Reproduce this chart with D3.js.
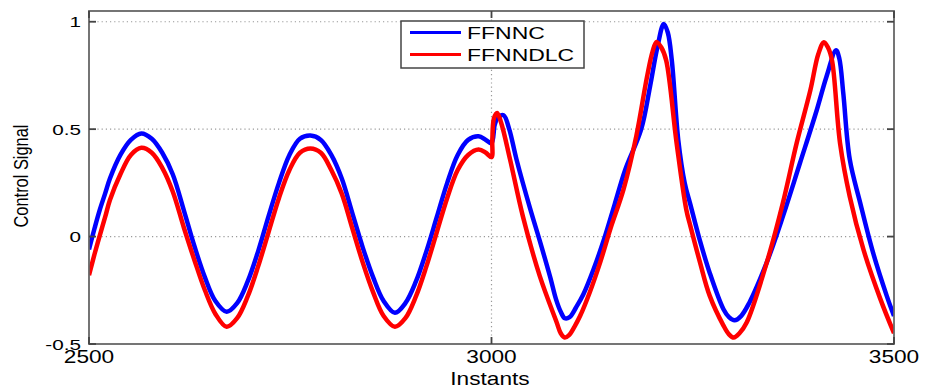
<!DOCTYPE html>
<html>
<head>
<meta charset="utf-8">
<script src="https://cdn.jsdelivr.net/npm/d3@7"></script>
<style>
  body { margin: 0; background: #fff; }
  text { font-family: "Liberation Sans", Arial, sans-serif; fill: #000; }
</style>
</head>
<body>
<div id="chart"></div>
<script>
// instants and values
var blueInstants = [2500, 2507, 2513, 2520, 2526, 2539, 2552, 2565, 2578, 2591, 2604, 2618, 2631, 2644, 2657, 2671,
    2684, 2697, 2710, 2723, 2736, 2749, 2762, 2775, 2788, 2801, 2814, 2827, 2840, 2853, 2866, 2880,
    2893, 2906, 2919, 2932, 2945, 2958, 2971, 2984, 2993, 3000, 3004, 3008, 3015, 3022, 3031, 3048,
    3060, 3073, 3080, 3086, 3091, 3097, 3105, 3114, 3127, 3140, 3153, 3166, 3186, 3197, 3206, 3214, 3219, 3224,
    3232, 3240, 3247, 3259, 3271, 3288, 3295, 3302, 3310, 3320, 3342, 3362, 3383, 3404, 3416, 3428, 3432, 3437,
    3445, 3458, 3474, 3491, 3500];
var blueValues = [-0.06, 0.04, 0.12, 0.2, 0.27, 0.38, 0.45, 0.48, 0.455, 0.39, 0.29, 0.12, -0.045, -0.19, -0.30, -0.35,
    -0.31, -0.21, -0.07, 0.094, 0.25, 0.38, 0.455, 0.47, 0.45, 0.38, 0.27, 0.11, -0.05, -0.19, -0.30, -0.355,
    -0.31, -0.21, -0.07, 0.09, 0.25, 0.38, 0.45, 0.467, 0.45, 0.435, 0.52, 0.555, 0.565, 0.50, 0.36, 0.13,
    -0.02, -0.19, -0.29, -0.35, -0.38, -0.375, -0.33, -0.27, -0.15, -0.01, 0.15, 0.31, 0.50, 0.70, 0.88, 0.99, 0.95, 0.82,
    0.45, 0.25, 0.15, -0.02, -0.168, -0.337, -0.375, -0.39, -0.37, -0.31, -0.12, 0.094, 0.34, 0.588, 0.743, 0.867, 0.83, 0.667,
    0.36, 0.157, -0.075, -0.276, -0.37];

var redInstants = [2500, 2507, 2513, 2520, 2526, 2539, 2552, 2565, 2578, 2591, 2604, 2618, 2631, 2644, 2657, 2671,
    2684, 2697, 2710, 2723, 2736, 2749, 2762, 2775, 2788, 2801, 2814, 2827, 2840, 2853, 2866, 2880,
    2893, 2906, 2919, 2932, 2945, 2958, 2971, 2984, 2993, 3000, 3001, 3003, 3007, 3012, 3023, 3039,
    3060, 3081, 3086, 3091, 3096, 3103, 3110, 3122, 3135, 3148, 3164, 3180, 3193, 3200, 3205, 3211, 3217,
    3230, 3242, 3247, 3259, 3271, 3288, 3295, 3301, 3308, 3317, 3342, 3362, 3379, 3396, 3406, 3413, 3418, 3423,
    3433, 3445, 3462, 3483, 3500];
var redValues = [-0.18, -0.08, 0.0, 0.09, 0.17, 0.29, 0.38, 0.413, 0.39, 0.32, 0.21, 0.04, -0.11, -0.25, -0.36, -0.42,
    -0.38, -0.28, -0.14, 0.02, 0.18, 0.31, 0.39, 0.41, 0.39, 0.31, 0.20, 0.04, -0.12, -0.26, -0.37, -0.42,
    -0.38, -0.28, -0.14, 0.02, 0.18, 0.31, 0.38, 0.405, 0.39, 0.37, 0.45, 0.55, 0.575, 0.53, 0.36, 0.094,
    -0.184, -0.40, -0.45, -0.47, -0.46, -0.42, -0.37, -0.26, -0.12, 0.04, 0.22, 0.47, 0.74, 0.86, 0.906, 0.88, 0.82,
    0.434, 0.125, 0.05, -0.12, -0.275, -0.413, -0.455, -0.47, -0.45, -0.40, -0.12, 0.157, 0.434, 0.68, 0.85, 0.905, 0.88, 0.82,
    0.434, 0.187, -0.06, -0.29, -0.45];

var xTicks = [2500, 3000, 3500];
var yTicks = [-0.5, 0, 0.5, 1];
var seriesNames = ["FFNNC", "FFNNDLC"];
var seriesColors = ["#0000ff", "#ff0000"];

var width = 939, height = 390;
var margin = {top: 11, right: 45, bottom: 46, left: 89};
var plotW = width - margin.left - margin.right;
var plotH = height - margin.top - margin.bottom;

var svg = d3.select("#chart").append("svg")
    .attr("width", width)
    .attr("height", height);

svg.append("rect").attr("width", width).attr("height", height).attr("fill", "#fff");

var g = svg.append("g")
    .attr("transform", "translate(" + margin.left + "," + margin.top + ")");

var x = d3.scaleLinear().domain([2500, 3500]).range([0, plotW]);
var y = d3.scaleLinear().domain([-0.5, 1.05]).range([plotH, 0]);

// text is drawn a bit wide, like the original export
function wideText(parent, tx, ty, str, size, sx, anchor, rot) {
    return parent.append("text")
        .attr("transform", "translate(" + tx + "," + ty + ") scale(" + sx + ",1)" + (rot ? " rotate(" + rot + ")" : ""))
        .attr("text-anchor", anchor)
        .style("font-size", size + "px")
        .text(str);
}

// dotted grid
g.selectAll(".hgrid")
    .data(yTicks.filter(function (d) { return d > -0.5; }))
    .enter().append("line")
    .attr("x1", 0).attr("x2", plotW)
    .attr("y1", function (d) { return y(d); })
    .attr("y2", function (d) { return y(d); })
    .attr("stroke", "#999")
    .attr("stroke-width", 1.2)
    .attr("stroke-dasharray", "1.2,3");

g.selectAll(".vgrid")
    .data(xTicks.filter(function (d) { return d > 2500 && d < 3500; }))
    .enter().append("line")
    .attr("y1", 0).attr("y2", plotH)
    .attr("x1", function (d) { return x(d); })
    .attr("x2", function (d) { return x(d); })
    .attr("stroke", "#999")
    .attr("stroke-width", 1.2)
    .attr("stroke-dasharray", "1.2,3");

// curves
g.append("clipPath").attr("id", "clip")
    .append("rect").attr("width", plotW).attr("height", plotH);

var line = d3.line()
    .x(function (d) { return x(d[0]); })
    .y(function (d) { return y(d[1]); })
    .curve(d3.curveCatmullRom.alpha(0.5));

var series = [
    d3.zip(blueInstants, blueValues),
    d3.zip(redInstants, redValues)
];

g.append("g").attr("clip-path", "url(#clip)")
    .selectAll("path")
    .data(series)
    .enter().append("path")
    .attr("d", line)
    .attr("fill", "none")
    .attr("stroke", function (d, i) { return seriesColors[i]; })
    .attr("stroke-width", 4.5)
    .attr("stroke-linejoin", "round");

// axes box with inward ticks
var axisColor = "#666";
g.append("rect")
    .attr("width", plotW).attr("height", plotH)
    .attr("fill", "none").attr("stroke", axisColor).attr("stroke-width", 1.8);

var tickLen = 7;
yTicks.forEach(function (t) {
    g.append("line").attr("x1", 0).attr("x2", tickLen).attr("y1", y(t)).attr("y2", y(t))
        .attr("stroke", "#444").attr("stroke-width", 1.8);
    g.append("line").attr("x1", plotW - tickLen).attr("x2", plotW).attr("y1", y(t)).attr("y2", y(t))
        .attr("stroke", "#444").attr("stroke-width", 1.8);
    wideText(g, -8, y(t) + 5.5, String(t), 15, 1.38, "end");
});
xTicks.forEach(function (t) {
    g.append("line").attr("x1", x(t)).attr("x2", x(t)).attr("y1", plotH).attr("y2", plotH - tickLen)
        .attr("stroke", "#444").attr("stroke-width", 1.8);
    g.append("line").attr("x1", x(t)).attr("x2", x(t)).attr("y1", 0).attr("y2", tickLen)
        .attr("stroke", "#444").attr("stroke-width", 1.8);
    wideText(g, x(t), plotH + 19, String(t), 18, 1.26, "middle");
});

// axis titles
wideText(svg, 490, 385, "Instants", 18, 1.26, "middle");
wideText(svg, 28, 176, "Control Signal", 16.4, 1.25, "middle", -90);

// legend
var legend = svg.append("g");
legend.append("rect")
    .attr("x", 401).attr("y", 21)
    .attr("width", 183).attr("height", 47)
    .attr("fill", "#fff").attr("stroke", "#444").attr("stroke-width", 1.5);

seriesNames.forEach(function (name, i) {
    var ly = 32.5 + i * 22;
    legend.append("line")
        .attr("x1", 410).attr("x2", 461)
        .attr("y1", ly).attr("y2", ly)
        .attr("stroke", seriesColors[i]).attr("stroke-width", 3);
    wideText(legend, 467, ly + 6.5, name, 16.3, 1.41, "start");
});
</script>
</body>
</html>
